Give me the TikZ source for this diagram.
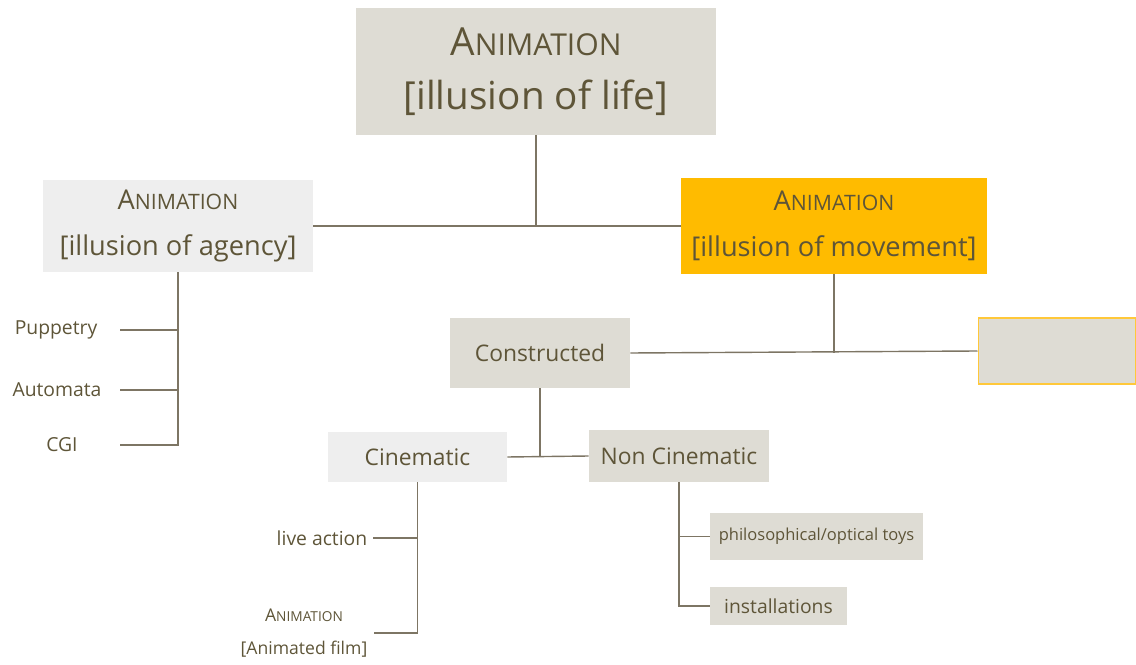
\documentclass[tikz,border=0pt]{standalone}
\usepackage{fontspec}
\setmainfont{Open Sans}
\usetikzlibrary{calc}
\definecolor{ink}{HTML}{5E5538}
\definecolor{wirecol}{HTML}{7D7564}
\definecolor{sand}{HTML}{DEDCD4}
\definecolor{mist}{HTML}{EEEEEE}
\definecolor{amber}{HTML}{FFBB00}
\definecolor{amberline}{HTML}{FFC83A}
\newcommand\animcaps{A\scalebox{.78}{NIMATION}}
\tikzset{
  mbox/.style={rectangle,inner sep=0pt,align=center,text=ink},
  mlabel/.style={align=center,text=ink},
  hbig/.style={font=\fontsize{22}{31}\selectfont},
  hmid/.style={font=\fontsize{15.5}{26}\selectfont},
  hlab/.style={font=\fontsize{13}{15}\selectfont},
  hsmall/.style={font=\fontsize{11}{13}\selectfont},
  hnote/.style={font=\fontsize{9.4}{11}\selectfont},
  htiny/.style={font=\fontsize{10}{19}\selectfont},
  link/.style={draw=wirecol,line width=.8pt}
}

\begin{document}
\begin{tikzpicture}[x=.02cm,y=-.02cm]
  \useasboundingbox (0,0) rectangle (1136,665);

  % top level
  \node[mbox,hbig,fill=sand,minimum width=7.2cm,minimum height=2.54cm]
    (life) at (536,71.5) {\animcaps\\{[}illusion of life{]}};
  \node[mbox,hmid,fill=mist,minimum width=5.4cm,minimum height=1.84cm]
    (agency) at (178,226) {\animcaps\\{[}illusion of agency{]}};
  \node[mbox,hmid,fill=amber,minimum width=6.12cm,minimum height=1.92cm]
    (movement) at (834,226) {\animcaps\\{[}illusion of movement{]}};

  \draw[link] (agency.east) -- (movement.west);
  \draw[link] (life.south) -- (life.south |- agency.east);

  % agency branch
  \node[mlabel,hsmall] (pup) at (56,330) {Puppetry};
  \node[mlabel,hsmall] (auto) at (57,390) {Automata};
  \node[mlabel,hsmall] (cgi) at (62,445) {CGI};
  \coordinate (aglead) at (120,448);
  \draw[link] (agency.south) |- (aglead |- cgi);
  \draw[link] (aglead |- pup) -- (agency.south |- pup);
  \draw[link] (aglead |- auto) -- (agency.south |- auto);

  % movement branch
  \node[mbox,hlab,fill=sand,minimum width=3.6cm,minimum height=1.4cm]
    (constructed) at (540,353) {Constructed};
  \node[mbox,fill=sand,draw=amberline,line width=.6pt,
        minimum width=3.16cm,minimum height=1.32cm] (blank) at (1057,351) {};
  \draw[link] (constructed.east) -- (blank.west);
  \draw[link] (movement.south) -- (movement.south |- constructed.east);

  \node[mbox,hlab,fill=mist,minimum width=3.58cm,minimum height=1cm]
    (cinematic) at (417.5,457) {Cinematic};
  \node[mbox,hlab,fill=sand,minimum width=3.6cm,minimum height=1.04cm]
    (noncin) at (679,456) {Non Cinematic};
  \draw[link] (cinematic.east) -- (noncin.west);
  \draw[link] (constructed.south) -- (constructed.south |- noncin.west);

  % cinematic
  \node[mlabel,hsmall] (live) at (322,538) {live action};
  \node[mlabel,htiny] (film) at (304,633) {\animcaps\\{[}Animated film{]}};
  \draw[link] (live.east) -- (live.east -| cinematic.south);
  \draw[link] (cinematic.south) |- (film.east);

  % non cinematic
  \node[mbox,hnote,fill=sand,minimum width=4.26cm,minimum height=.94cm]
    (toys) at (816.5,536.5) {philosophical/optical toys};
  \node[mbox,hsmall,fill=sand,minimum width=2.74cm,minimum height=.76cm]
    (inst) at (778.5,606) {installations};
  \draw[link] (noncin.south) |- (inst.west);
  \draw[link] (toys.west) -- (toys.west -| noncin.south);
\end{tikzpicture}
\end{document}
